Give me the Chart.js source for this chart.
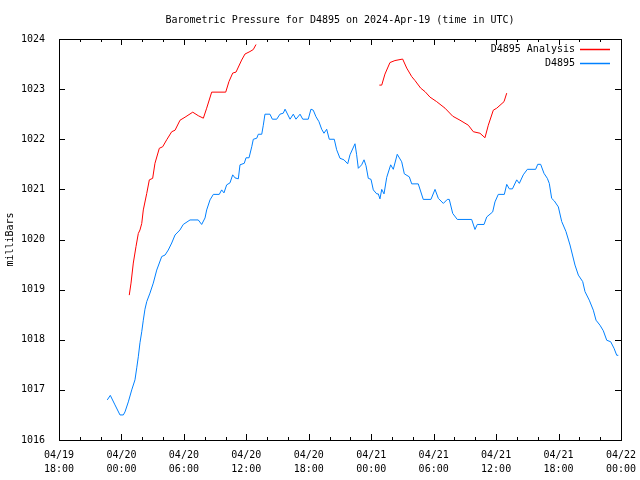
<!DOCTYPE html>
<html>
<head>
<meta charset="UTF-8">
<title>Barometric Pressure D4895</title>
<script src="https://cdn.jsdelivr.net/npm/chart.js"></script>
<style>
  body { margin: 0; background: #fff; }
  #wrap { width: 640px; height: 480px; }
</style>
</head>
<body>
<div id="wrap"><canvas id="c" width="640" height="480"></canvas></div>
<script>
// hours since 2024-04-19 18:00 UTC
const obsHours = [4.64,4.93,5.38,5.86,6.18,6.34,6.66,6.99,7.30,7.47,7.62,7.78,7.95,8.10,8.26,8.43,8.74,9.06,9.39,9.87,10.19,10.50,10.83,11.15,11.62,11.94,12.59,13.38,13.71,14.03,14.19,14.51,14.83,15.40,15.63,15.85,16.11,16.43,16.69,16.91,17.23,17.39,17.80,17.97,18.26,18.52,18.67,19.00,19.15,19.48,19.63,19.79,20.27,20.50,20.92,21.23,21.55,21.72,22.20,22.51,22.77,23.16,23.42,23.95,24.21,24.43,24.69,24.98,25.24,25.46,25.72,25.97,26.45,26.68,27.00,27.38,27.74,27.96,28.44,28.60,28.76,29.08,29.31,29.50,29.72,29.98,30.20,30.53,30.68,30.84,31.01,31.23,31.49,31.87,32.12,32.50,32.93,33.18,33.66,33.89,34.52,35.00,35.74,36.13,36.45,36.93,37.31,37.50,37.83,38.27,39.65,39.97,40.19,40.84,41.10,41.67,41.89,42.21,42.79,43.02,43.27,43.57,43.98,44.23,44.61,45.00,45.80,46.00,46.28,46.60,46.92,47.11,47.34,47.59,47.98,48.30,48.71,49.10,49.58,49.90,50.32,50.54,50.95,51.34,51.60,51.98,52.30,52.63,53.01,53.33,53.59,53.74];
const obsPressure = [1016.80,1016.89,1016.70,1016.50,1016.50,1016.56,1016.76,1017.00,1017.20,1017.44,1017.66,1017.94,1018.16,1018.39,1018.61,1018.76,1018.93,1019.13,1019.39,1019.66,1019.69,1019.79,1019.93,1020.09,1020.19,1020.30,1020.39,1020.39,1020.30,1020.43,1020.59,1020.79,1020.90,1020.90,1020.99,1020.93,1021.09,1021.13,1021.29,1021.23,1021.21,1021.49,1021.52,1021.63,1021.63,1021.85,1022.00,1022.02,1022.10,1022.10,1022.28,1022.50,1022.50,1022.40,1022.40,1022.50,1022.52,1022.60,1022.40,1022.50,1022.40,1022.50,1022.40,1022.40,1022.60,1022.58,1022.45,1022.35,1022.20,1022.12,1022.20,1022.00,1022.00,1021.79,1021.62,1021.59,1021.51,1021.69,1021.91,1021.69,1021.42,1021.49,1021.59,1021.47,1021.22,1021.20,1020.99,1020.91,1020.91,1020.81,1021.00,1020.91,1021.24,1021.49,1021.40,1021.70,1021.55,1021.31,1021.25,1021.11,1021.11,1020.80,1020.80,1021.00,1020.82,1020.72,1020.80,1020.80,1020.52,1020.40,1020.40,1020.20,1020.30,1020.30,1020.45,1020.55,1020.75,1020.90,1020.90,1021.10,1021.01,1021.01,1021.19,1021.12,1021.29,1021.40,1021.40,1021.50,1021.50,1021.32,1021.22,1021.12,1020.82,1020.77,1020.65,1020.36,1020.16,1019.89,1019.49,1019.29,1019.16,1018.96,1018.79,1018.59,1018.39,1018.29,1018.18,1017.99,1017.96,1017.83,1017.69,1017.69];

const anaHours = [6.75,6.92,7.14,7.40,7.62,7.78,7.95,8.10,8.43,8.68,9.00,9.22,9.64,9.96,10.35,10.83,11.15,11.63,12.11,12.85,13.38,13.87,14.19,14.67,16.02,16.33,16.69,17.01,17.55,17.87,18.35,18.67,18.93,
  24.9,
  30.78,31.01,31.32,31.80,32.28,33.02,33.41,33.89,34.21,34.75,35.17,35.65,36.29,37.09,37.83,38.53,39.33,39.81,40.45,40.93,41.25,41.73,42.06,42.76,43.02];
const anaPressure = [1018.89,1019.13,1019.53,1019.86,1020.12,1020.19,1020.32,1020.59,1020.92,1021.19,1021.22,1021.52,1021.82,1021.85,1021.99,1022.15,1022.18,1022.38,1022.44,1022.54,1022.47,1022.42,1022.62,1022.94,1022.94,1023.15,1023.32,1023.34,1023.58,1023.70,1023.75,1023.79,1023.89,
  null,
  1023.08,1023.08,1023.30,1023.53,1023.57,1023.60,1023.42,1023.25,1023.17,1023.02,1022.95,1022.84,1022.75,1022.62,1022.46,1022.38,1022.28,1022.15,1022.12,1022.03,1022.28,1022.58,1022.62,1022.75,1022.92];

const xTickLabels = ['04/19\n18:00','04/20\n00:00','04/20\n06:00','04/20\n12:00','04/20\n18:00','04/21\n00:00','04/21\n06:00','04/21\n12:00','04/21\n18:00','04/22\n00:00'];
const seriesNames = ['D4895 Analysis', 'D4895'];
const seriesColors = ['#ff0000', '#0080ff'];

const FONT = '"DejaVu Sans Mono", "Liberation Mono", monospace';

function toPoints(xs, ys) {
  return xs.map((x, i) => ({ x: x, y: ys[i] }));
}

// gnuplot-style frame, inward ticks and legend
const framePlugin = {
  id: 'frame',
  afterDraw(chart) {
    const ctx = chart.ctx;
    const a = chart.chartArea;
    const xs = chart.scales.x, ys = chart.scales.y;
    ctx.save();
    ctx.strokeStyle = '#000';
    ctx.lineWidth = 1;
    ctx.strokeRect(Math.round(a.left) + 0.5, Math.round(a.top) + 0.5,
                   Math.round(a.right - a.left), Math.round(a.bottom - a.top));
    ctx.beginPath();
    for (let h = 0; h <= 54; h += 2) {
      const px = Math.round(xs.getPixelForValue(h)) + 0.5;
      const len = (h % 6 === 0) ? 6 : 3;
      ctx.moveTo(px, a.bottom); ctx.lineTo(px, a.bottom - len);
      ctx.moveTo(px, a.top); ctx.lineTo(px, a.top + len);
    }
    for (let v = 1016; v <= 1024; v++) {
      const py = Math.round(ys.getPixelForValue(v)) + 0.5;
      ctx.moveTo(a.left, py); ctx.lineTo(a.left + 6, py);
      ctx.moveTo(a.right, py); ctx.lineTo(a.right - 6, py);
    }
    ctx.stroke();

    // legend
    ctx.font = '10px ' + FONT;
    ctx.textAlign = 'right';
    ctx.textBaseline = 'middle';
    seriesNames.forEach((name, i) => {
      const y = Math.round(a.top + 10 + i * 14) + 0.5;
      ctx.fillStyle = '#000';
      ctx.fillText(name, 575, y);
      ctx.strokeStyle = seriesColors[i];
      ctx.lineWidth = 1.5;
      ctx.beginPath();
      ctx.moveTo(580, y);
      ctx.lineTo(610, y);
      ctx.stroke();
    });
    ctx.restore();
  }
};

new Chart(document.getElementById('c'), {
  type: 'line',
  data: {
    datasets: [
      {
        label: seriesNames[0],
        data: toPoints(anaHours, anaPressure),
        borderColor: seriesColors[0],
        borderWidth: 1,
        pointRadius: 0,
        tension: 0,
        spanGaps: false
      },
      {
        label: seriesNames[1],
        data: toPoints(obsHours, obsPressure),
        borderColor: seriesColors[1],
        borderWidth: 1,
        pointRadius: 0,
        tension: 0
      }
    ]
  },
  options: {
    responsive: false,
    animation: false,
    layout: { padding: { left: 0, right: 19, top: 0, bottom: 0 } },
    plugins: {
      legend: { display: false },
      tooltip: { enabled: false },
      title: {
        display: true,
        fullSize: false,
        text: 'Barometric Pressure for D4895 on 2024-Apr-19 (time in UTC)',
        color: '#000',
        font: { family: FONT, size: 10, weight: 'normal' },
        padding: { top: 14, bottom: 13 }
      }
    },
    scales: {
      x: {
        type: 'linear',
        min: 0,
        max: 54,
        grid: { display: false },
        border: { display: false },
        afterFit(s) { s.height = 40; },
        afterBuildTicks(s) {
          s.ticks = xTickLabels.map((_, i) => ({ value: i * 6 }));
        },
        ticks: {
          color: '#000',
          padding: 0,
          maxRotation: 0,
          autoSkip: false,
          font: { family: FONT, size: 10, lineHeight: 1.4 },
          callback: (v) => xTickLabels[Math.round(v / 6)].split('\n')
        }
      },
      y: {
        min: 1016,
        max: 1024,
        grid: { display: false },
        border: { display: false },
        afterFit(s) { s.width = 59; },
        ticks: {
          stepSize: 1,
          color: '#000',
          padding: 6,
          font: { family: FONT, size: 10 },
          callback: (v) => String(v)
        },
        title: {
          display: true,
          text: 'milliBars',
          color: '#000',
          padding: { top: 4, bottom: 0 },
          font: { family: FONT, size: 10 }
        }
      }
    }
  },
  plugins: [framePlugin]
});
</script>
</body>
</html>
